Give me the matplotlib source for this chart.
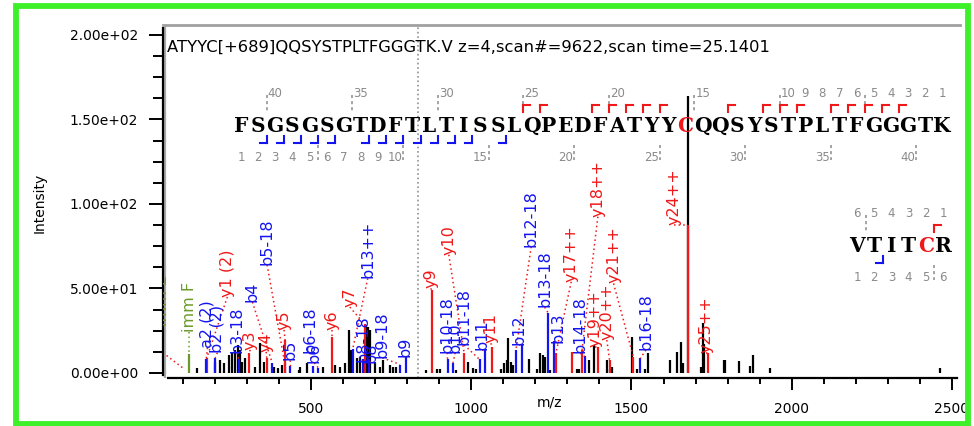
import numpy as np
import matplotlib.pyplot as plt
from matplotlib.lines import Line2D
from matplotlib.patches import Rectangle
from matplotlib.ticker import MultipleLocator, FuncFormatter

W, H = 974, 426

title = "ATYYC[+689]QQSYSTPLTFGGGTK.V z=4,scan#=9622,scan time=25.1401"

# unassigned peaks (m/z, intensity)
peak_mz = [145, 202, 217, 228, 243, 254, 264, 271, 279, 285, 295, 326, 341, 352,
           383, 398, 409, 461, 466, 486, 538, 574, 590, 605, 618, 626, 642, 652,
           673, 678, 683, 699, 714, 724, 745, 755, 766, 859, 892, 903, 952, 991,
           1004, 1016, 1092, 1102, 1110, 1116, 1123, 1130, 1180, 1206, 1216, 1224,
           1230, 1247, 1330, 1337, 1366, 1382, 1423, 1434, 1439, 1501, 1516, 1542,
           1553, 1620, 1641, 1656, 1661, 1676, 1718, 1722, 1727, 1789, 1793, 1835,
           1869, 1879, 1931, 2464]
peak_int = [2.8, 6.7, 7.7, 5.7, 10.6, 11.6, 13.6, 16.6, 13.6, 6.7, 8.7, 3.8, 17.6, 6.7,
            3.8, 2.8, 4.7, 1.8, 3.8, 5.7, 3.8, 4.7, 3.8, 5.7, 25.5, 13.6, 8.7, 9.7,
            28.4, 27.4, 25.5, 5.7, 3.8, 7.7, 4.7, 3.8, 3.8, 1.8, 2.2, 2.2, 2.0, 6.7,
            2.8, 2.2, 2.2, 5.8, 7.7, 20.5, 6.7, 4.7, 8.0, 2.2, 11.7, 10.7,
            9.7, 2.0, 2.2, 2.2, 7.7, 16.6, 7.7, 2.5, 3.5, 21.5, 2.2, 2.2,
            11.7, 7.7, 12.6, 18.5, 5.8, 164, 3.5, 29.4, 17.0, 7.7, 7.7, 6.9,
            4.3, 10.8, 3.0, 3.0]

# assigned fragment ions
ion_name = ["imm F", "y1 (2)", "a2 (2)", "b2 (2)", "b3-18", "y3", "b4", "b5-18",
            "y4", "y5", "b5", "b6-18", "b6", "y6", "y7", "b8-18", "b8", "b13++",
            "b9-18", "b9", "y9", "y10", "b10-18", "b10", "b11-18", "b11", "y11",
            "b12", "b12-18", "b13-18", "b13", "y17++", "b14-18", "y18++", "y19++",
            "y20++", "y21++", "b16-18", "y24++", "y25++"]
ion_mz = [120, 175, 173, 201, 274, 305, 379, 418,
          362, 419, 436, 505, 523, 566, 667, 663, 681, 630,
          778, 796, 878, 978, 926, 943, 1026, 1044, 1065.5,
          1157.5, 1139.5, 1240.5, 1258.5, 1264, 1353.6, 1345.5, 1396,
          1431.5, 1505.5, 1527.7, 1676, 1740]
ion_int = [11, 9, 8, 9, 8, 12, 6, 6,
           9, 19.5, 4, 4, 3, 21.5, 29, 8, 8, 14,
           5, 9.6, 49, 11.6, 8, 6, 8, 13.6, 15.6,
           16.6, 13.6, 35.3, 18.7, 11.6, 9.8, 13.6, 15.6,
           7.7, 9.7, 8.7, 87.5, 12]
ion_kind = ["imm", "y", "b", "b", "b", "y", "b", "b",
            "y", "y", "b", "b", "b", "y", "y", "b", "b", "b",
            "b", "b", "y", "y", "b", "b", "b", "b", "y",
            "b", "b", "b", "b", "y", "b", "y", "y",
            "y", "y", "b", "y", "y"]
# unlabelled y13 peak
extra_y_mz = [1315.6]
extra_y_int = [12.6]

# where each rotated label sits (m/z, intensity at its lower end)
label_mz = [120, 239, 177, 208, 270, 311, 317, 363,
            360, 416, 435, 497, 510, 566, 621, 661, 686, 677,
            723, 792, 873, 930, 925, 950, 978, 1035, 1061,
            1149, 1187, 1229, 1272, 1312, 1340, 1395, 1385,
            1423, 1444, 1545, 1633, 1733]
label_int = [24, 45, 15, 12, 12, 13.6, 42, 64,
             12.5, 25.5, 7.5, 12, 6, 25.5, 39, 6.5, 6, 56,
             9, 9.5, 50, 70, 12, 12, 16.6, 13.6, 17.6,
             16.6, 74.7, 39, 17.6, 54, 11.8, 92.5, 15.6,
             19.5, 53, 13.6, 87.5, 12]

precursor_mz = 835

peptide = "FSGSGSGTDFTLTISSLQPEDFATYYCQQSYSTPLTFGGGTK"
peptide_mod = 26
b_seen = [2, 3, 4, 5, 6, 8, 9, 10, 11, 12, 13, 14, 16]
y_seen = [3, 4, 5, 6, 7, 9, 10, 11, 13, 17, 18, 19, 20, 21, 24, 25]
shown_numbers = list(range(1, 11)) + [15, 20, 25, 30, 35, 40]

peptide2 = "VTITCR"
peptide2_mod = 4
b_seen2 = [2]
y_seen2 = [1]
shown_numbers2 = [1, 2, 3, 4, 5, 6]

RED = "#f01818"
BLUE = "#1414f0"
GREEN = "#6b9a2a"
colors = {"b": BLUE, "y": RED, "imm": GREEN}

fig = plt.figure(figsize=(W / 100, H / 100), dpi=100)
fig.patch.set_facecolor("white")


def fx(px):
    return px / W


def fy(py):
    return 1 - py / H


def seg(x0, y0, x1, y1, **kw):
    fig.add_artist(Line2D([fx(x0), fx(x1)], [fy(y0), fy(y1)],
                          transform=fig.transFigure, **kw))


ax = fig.add_axes([fx(163), fy(378), (960 - 163) / W, (378 - 25) / H])
ax.set_xlim(38.2, 2525)
ax.set_ylim(-2.96, 205.9)

# spectrum
ax.axvline(precursor_mz, color="#909090", ls=":", lw=1.2, zorder=1)
ax.vlines(peak_mz, 0, peak_int, color="black", lw=1.6, zorder=2)
ax.vlines(extra_y_mz, 0, extra_y_int, color=RED, lw=1.6, zorder=3)
for name, mz, it, kind, lx, ly in zip(ion_name, ion_mz, ion_int, ion_kind,
                                      label_mz, label_int):
    c = colors[kind]
    ax.vlines(mz, 0, it, color=c, lw=1.6, zorder=3)
    ax.plot([lx, mz], [ly, it], ls=(0, (1, 2)), color=RED if kind != "imm" else GREEN,
            lw=1.1, zorder=3)
    ax.text(lx, ly, name, rotation=90, ha="center", va="bottom", fontsize=11.5,
            color=c, zorder=4, clip_on=True)
# clipped immonium label at the left edge
ax.text(37, 28, "imm L", rotation=90, ha="center", va="bottom", fontsize=11.5,
        color=GREEN, clip_on=True)
ax.plot([38, 100], [12, 3], ls=(0, (1, 2)), color=RED, lw=1.1)

# axes styling
ax.spines["right"].set_visible(False)
ax.spines["top"].set_color("#a0a0a0")
ax.spines["top"].set_linewidth(2)
ax.spines["left"].set_linewidth(1.6)
ax.spines["bottom"].set_linewidth(1.6)
ax.spines["left"].set_bounds(-1.2, 204)
ax.spines["bottom"].set_bounds(54, 2515)
ax.add_line(Line2D([0.003, 0.003], [0.0, 1.0], transform=ax.transAxes,
                   color="#a8a8a8", lw=1.6))

ax.xaxis.set_major_locator(MultipleLocator(500))
ax.xaxis.set_minor_locator(MultipleLocator(100))
ax.yaxis.set_major_locator(MultipleLocator(50))
ax.yaxis.set_minor_locator(MultipleLocator(12.5))
ax.set_yticks([0, 50, 100, 150, 200])
ax.yaxis.set_major_formatter(FuncFormatter(lambda v, p: f"{v:.2e}"))
ax.tick_params(axis="x", which="major", length=8.5, width=1.4, pad=9, labelsize=10)
ax.tick_params(axis="x", which="minor", length=4.3, width=1.4)
ax.tick_params(axis="y", which="major", length=10, width=1.4, pad=8, labelsize=10)
ax.tick_params(axis="y", which="minor", length=7, width=1.4)
ax.set_xticks([500, 1000, 1500, 2000, 2500])

fig.text(fx(550), fy(402), "m/z", ha="center", va="center", fontsize=10)
fig.text(fx(40), fy(203), "Intensity", ha="center", va="center", rotation=90,
         fontsize=10)
fig.text(fx(167), fy(52), title, ha="left", va="baseline", fontsize=11.8)


def draw_peptide(seq, mod_pos, b_obs, y_obs, numbers, x_first, step, base):
    n = len(seq)
    for k, aa in enumerate(seq):
        fig.text(fx(x_first + k * step), fy(base), aa, ha="center", va="baseline",
                 fontsize=14.5, family="DejaVu Serif", weight="bold",
                 color=RED if k == mod_pos else "black")
    for j in range(1, n + 1):
        k = n - j
        x = x_first + k * step
        if j in numbers:
            fig.text(fx(x), fy(base - 35), str(j), ha="center", va="baseline",
                     fontsize=8.5, color="#8a8a8a")
            if j % 5 == 0:
                seg(x - step / 2, base - 37, x - step / 2, base - 20,
                    color="#8a8a8a", lw=1.1, ls=(0, (2, 2)))
        if j in y_obs:
            gx = x - step / 2
            seg(gx, base - 27, gx + 7, base - 27, color=RED, lw=1.5)
            seg(gx, base - 27, gx, base - 20, color=RED, lw=1.5)
    for i in range(1, n + 1):
        x = x_first + (i - 1) * step
        if i in numbers:
            fig.text(fx(x), fy(base + 29), str(i), ha="center", va="baseline",
                     fontsize=8.5, color="#8a8a8a")
            if i % 5 == 0:
                seg(x + step / 2, base + 13, x + step / 2, base + 28,
                    color="#8a8a8a", lw=1.1, ls=(0, (2, 2)))
        if i in b_obs:
            gx = x + step / 2
            seg(gx - 7, base + 11, gx, base + 11, color=BLUE, lw=1.5)
            seg(gx, base + 4, gx, base + 11, color=BLUE, lw=1.5)


draw_peptide(peptide, peptide_mod, b_seen, y_seen, shown_numbers, 241, 17.1, 132)
draw_peptide(peptide2, peptide2_mod, b_seen2, y_seen2, shown_numbers2, 857, 17.2, 252)

# outer green frame
fig.add_artist(Rectangle((fx(16), fy(424)), (967.5 - 16) / W, (424 - 5.5) / H,
                         transform=fig.transFigure, fill=False,
                         edgecolor="#3ef02a", lw=4.2))

fig.savefig("out.png", dpi=100)
